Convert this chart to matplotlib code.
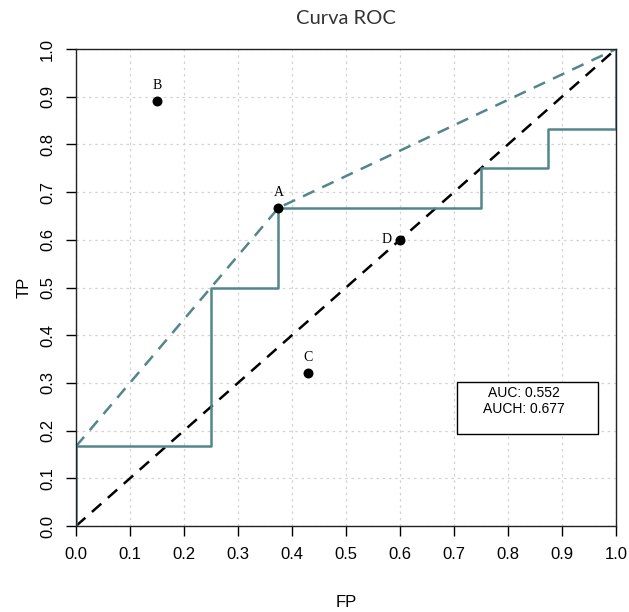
import matplotlib
matplotlib.use("Agg")
import matplotlib.pyplot as plt
import numpy as np

# ROC step curve
roc_fp = [0, 0, 0.25, 0.25, 0.375, 0.375, 0.75, 0.75, 0.875, 0.875, 1, 1]
roc_tp = [0, 0.167, 0.167, 0.5, 0.5, 0.667, 0.667, 0.75, 0.75, 0.833, 0.833, 1]
# convex hull
hull_fp = [0, 0.25, 0.375, 1]
hull_tp = [0.167, 0.5, 0.667, 1]
# classifier points
pt_names = ["A", "B", "C", "D"]
pt_fp = [0.375, 0.15, 0.43, 0.6]
pt_tp = [0.667, 0.89, 0.32, 0.6]
auc_text = ["AUC: 0.552", "AUCH: 0.677"]

teal = "#53868B"

fig = plt.figure(figsize=(6.29, 6.12), dpi=100)
ax = fig.add_axes([0.1208, 0.1405, 0.8585, 0.7794])

ticks = np.round(np.arange(0, 1.01, 0.1), 1)
for t in ticks:
    ax.axvline(t, color="#d3d3d3", lw=0.9, ls=(0, (2, 3)), zorder=0)
    ax.axhline(t, color="#d3d3d3", lw=0.9, ls=(0, (2, 3)), zorder=0)

ax.plot([0, 1], [0, 1], color="black", lw=1.8, ls=(0, (5, 3.5)), zorder=2)
ax.plot(hull_fp, hull_tp, color=teal, lw=1.8, ls=(0, (5, 3.5)), zorder=2)
ax.plot(roc_fp, roc_tp, color=teal, lw=1.8, zorder=3)

ax.scatter(pt_fp, pt_tp, s=38, color="black", zorder=4)
offs = {"A": (0, 0.033), "B": (0, 0.033), "C": (0, 0.033), "D": (-0.024, 0.0)}
for n, x, y in zip(pt_names, pt_fp, pt_tp):
    dx, dy = offs[n]
    ax.text(x + dx, y + dy, n, family="Liberation Serif", fontsize=10,
            ha="center", va="center", zorder=5)

# AUC box
ax.add_patch(plt.Rectangle((0.706, 0.193), 0.261, 0.109, fill=True, fc="white",
                           ec="black", lw=1.0, zorder=5))
ax.text(0.83, 0.279, auc_text[0], family="Liberation Sans", fontsize=10,
        ha="center", va="center", zorder=6)
ax.text(0.83, 0.245, auc_text[1], family="Liberation Sans", fontsize=10,
        ha="center", va="center", zorder=6)

ax.set_xlim(0, 1)
ax.set_ylim(0, 1)
ax.set_xticks(ticks)
ax.set_yticks(ticks)
ax.set_xticklabels([f"{t:.1f}" for t in ticks], family="Liberation Sans", fontsize=12)
ax.set_yticklabels([f"{t:.1f}" for t in ticks], family="Liberation Sans", fontsize=12,
                   rotation=90, va="center")
ax.tick_params(length=7, width=1, pad=8, color="black")
for s in ax.spines.values():
    s.set_linewidth(1.0)
    s.set_color("#222222")
    s.set_zorder(10)

ax.set_xlabel("FP", family="Liberation Sans", fontsize=12, labelpad=24)
ax.set_ylabel("TP", family="Liberation Sans", fontsize=12, labelpad=6)
ax.set_title("Curva ROC", family="Lato", fontsize=14.5, pad=18, color="#333333")

fig.savefig("out.png", dpi=100)
